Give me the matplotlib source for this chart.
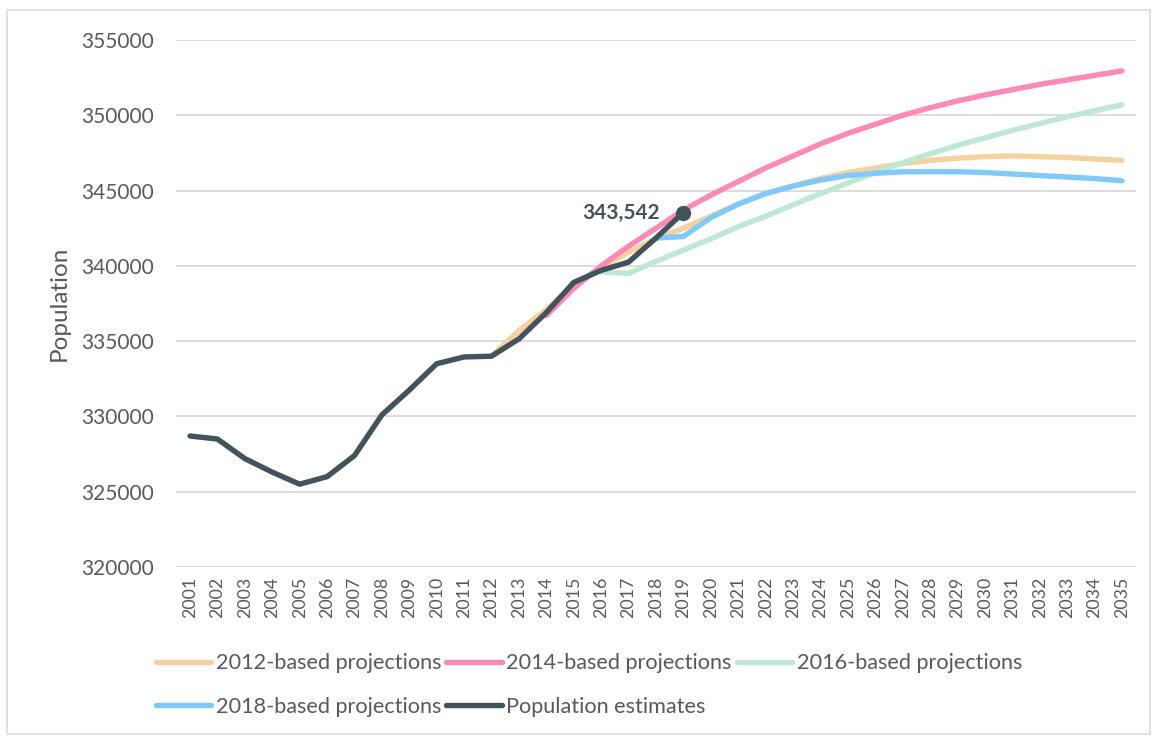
import matplotlib
matplotlib.use("Agg")
import matplotlib.pyplot as plt
from matplotlib.patches import Rectangle

plt.rcParams['font.family'] = ['Lato', 'DejaVu Sans']

years_est = list(range(2001, 2020))
pop_est = [328700, 328500, 327200, 326300, 325500, 326000, 327400, 330100, 331750,
           333500, 333950, 334000, 335150, 336900, 338900, 339700, 340250, 341850, 343542]

years_2012 = list(range(2012, 2036))
proj_2012 = [334000, 335700, 337100, 338700, 339900, 340900, 341800, 342500, 343300,
             344100, 344800, 345300, 345800, 346200, 346500, 346800, 347000, 347150,
             347250, 347300, 347250, 347200, 347100, 347000]

years_2014 = list(range(2014, 2036))
proj_2014 = [336700, 338500, 340000, 341300, 342500, 343700, 344700, 345600, 346500,
             347300, 348100, 348800, 349400, 350000, 350500, 350950, 351350, 351700,
             352050, 352350, 352650, 352950]

years_2016 = list(range(2016, 2036))
proj_2016 = [339600, 339500, 340300, 341050, 341800, 342600, 343300, 344050, 344800,
             345500, 346200, 346850, 347450, 348000, 348500, 349000, 349450, 349900,
             350300, 350700]

years_2018 = list(range(2018, 2036))
proj_2018 = [341850, 341950, 343200, 344100, 344800, 345300, 345700, 346000, 346150,
             346250, 346250, 346250, 346200, 346100, 346000, 345900, 345800, 345650]

labels = ["2012-based projections", "2014-based projections", "2016-based projections",
          "2018-based projections", "Population estimates"]
colors = ["#F5D19F", "#FF8AB5", "#BEE8D2", "#80C9FD", "#44525C"]
x_ticks = list(range(2001, 2036))
y_ticks = list(range(320000, 355001, 5000))

W, H = 1154, 736
fig = plt.figure(figsize=(W / 100, H / 100), dpi=100)
ax = fig.add_axes([176.3 / W, 1 - 567 / H, 959.4 / W, 527 / H])

lw = 3.9
series = [(years_2012, proj_2012), (years_2014, proj_2014), (years_2016, proj_2016),
          (years_2018, proj_2018), (years_est, pop_est)]
handles = []
for (xs, ys), lab, c in zip(series, labels, colors):
    h, = ax.plot(xs, ys, color=c, lw=lw, label=lab, solid_capstyle='round',
                 solid_joinstyle='round')
    handles.append(h)

ax.plot([years_est[-1]], [pop_est[-1]], 'o', color=colors[4], markersize=10, zorder=5)
ax.annotate(f"{pop_est[-1]:,}", (years_est[-1], pop_est[-1]), xytext=(-17, 0),
            textcoords='offset points', ha='right', va='center', fontsize=15,
            fontweight='bold', color=colors[4])

ax.set_xlim(2000.5, 2035.5)
ax.set_ylim(320000, 355000)
ax.set_xticks(x_ticks)
ax.set_xticklabels([str(y) for y in x_ticks], rotation=90, fontsize=12.8, color='#595959')
ax.set_yticks(y_ticks)
ax.set_yticklabels([str(v) for v in y_ticks], fontsize=15, color='#595959')
ax.tick_params(length=0)
ax.tick_params(axis='y', pad=16)
ax.tick_params(axis='x', pad=7)
ax.grid(axis='y', color='#D9D9D9', lw=1.3)
ax.set_axisbelow(True)
for s in ax.spines.values():
    s.set_visible(False)
ax.set_ylabel("Population", fontsize=17.5, color='#595959', labelpad=8)

order = [0, 3, 1, 4, 2]
leg = fig.legend([handles[i] for i in order], [labels[i] for i in order],
                 ncol=3, loc='center left', bbox_to_anchor=(136 / W, 1 - 685 / H),
                 frameon=False, fontsize=15.6, handlelength=2.55, handletextpad=0.22,
                 columnspacing=0.25, labelspacing=1.1, labelcolor='#595959')

fig.patches.append(Rectangle((7 / W, 2 / H), 1143 / W, 724 / H, transform=fig.transFigure,
                             fill=False, edgecolor='#D9D9D9', lw=1.2))

fig.savefig("out.png", dpi=100)
